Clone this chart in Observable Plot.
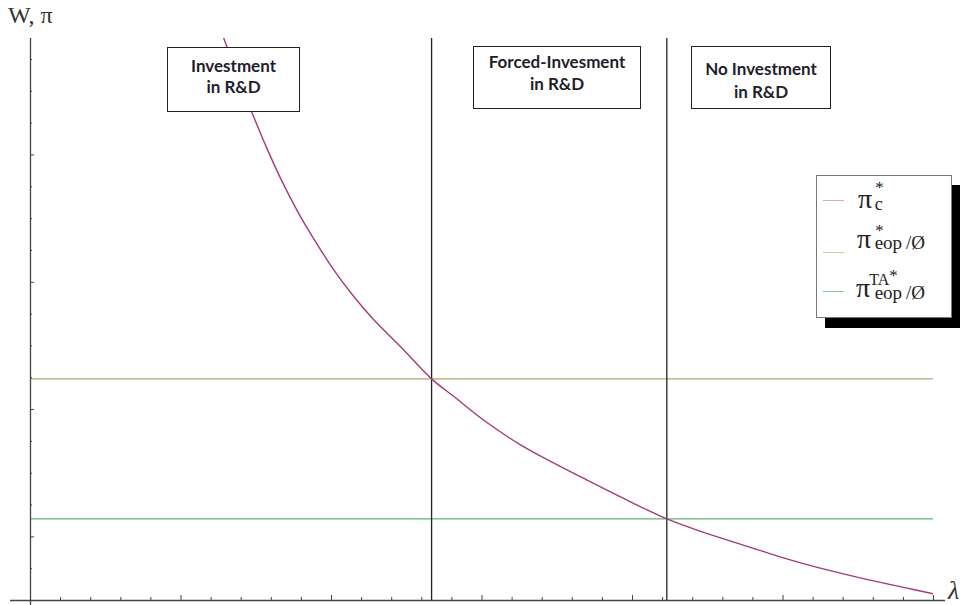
<!DOCTYPE html>
<html>
<head>
<meta charset="utf-8">
<script src="https://cdn.jsdelivr.net/npm/d3@7"></script>
<script src="https://cdn.jsdelivr.net/npm/@observablehq/plot@0.6"></script>
<style>
  html, body { margin: 0; padding: 0; background: #fff; }
  #wrap { position: relative; width: 960px; height: 605px; overflow: hidden; }
  #chart { position: absolute; left: 0; top: 0; }
  .box { position: absolute; box-sizing: border-box; border: 1.5px solid #222; background: #fff;
         text-align: center; font-family: Lato, "Open Sans", sans-serif; font-weight: 700; font-size: 17px; color: #1e1e2c; }
  .ser { position: absolute; font-family: "Liberation Serif", "DejaVu Serif", serif; color: #222; white-space: nowrap; }
  .ser span { position: relative; }
  #legend { position: absolute; left: 816px; top: 175px; width: 136px; height: 143px; box-sizing: border-box;
            border: 1px solid #777; background: #fff; box-shadow: 9px 10px 0 #000; }
  .sw { position: absolute; left: 6px; width: 21px; height: 0; border-top: 1.6px solid; }
</style>
</head>
<body>
<div id="wrap">
  <div id="chart"></div>
  <div class="ser" style="left:8px; top:3px; font-size:24px; line-height:24px; color:#333;">W, π</div>
  <div class="ser" style="left:948px; top:578px; font-size:26px; line-height:26px; font-style:italic; color:#333;">λ</div>
  <div id="boxes"></div>
  <div id="legend"></div>
</div>
<script>
// ---- data ----
const lambda = [1.28, 1.484, 1.595, 1.683, 1.794, 1.905, 2.015, 2.148, 2.281, 2.458, 2.665, 2.811, 3.035, 3.256, 3.475, 3.701, 3.920, 4.228, 4.405, 4.605, 4.804, 5.003, 5.203, 5.402, 5.601, 5.801, 6.0];
const piC    = [4.93, 4.297, 3.987, 3.765, 3.516, 3.298, 3.097, 2.888, 2.705, 2.495, 2.241, 2.104, 1.896, 1.723, 1.581, 1.444, 1.314, 1.141, 1.063, 0.984, 0.910, 0.835, 0.768, 0.709, 0.654, 0.603, 0.552];
const piEop = [2.241];
const piEopTA = [1.141];
const thresholds = [2.665, 4.228];
const xDomain = [0, 6];
const yDomain = [0.5, 4.915];
const xMajorTicks = [1, 2, 3, 4, 5, 6];
const xMinorTicks = [0.2, 0.4, 0.6, 0.8, 1.2, 1.4, 1.6, 1.8, 2.2, 2.4, 2.6, 2.8, 3.2, 3.4, 3.6, 3.8, 4.2, 4.4, 4.6, 4.8, 5.2, 5.4, 5.6, 5.8];
const yMajorTicks = [1, 2, 3, 4];
const yMinorTicks = [0.75, 1.25, 1.5, 1.75, 2.25, 2.5, 2.75, 3.25, 3.5, 3.75, 4.25, 4.5, 4.75];
const regionLabels = [["Investment", "in R&D"], ["Forced-Invesment", "in R&D"], ["No Investment", "in R&D"]];

const curve = lambda.map((x, i) => ({lambda: x, pi: piC[i]}));

const colC = "#a23a7c", colEop = "#b0a574", colTA = "#5db873";
const axisCol = "#444";

const chart = Plot.plot({
  width: 960, height: 605,
  marginLeft: 30, marginRight: 27, marginTop: 38, marginBottom: 5,
  x: {domain: xDomain, axis: null},
  y: {domain: yDomain, axis: null},
  marks: [
    Plot.ruleY(piEop, {stroke: colEop, strokeWidth: 1.4}),
    Plot.ruleY(piEopTA, {stroke: colTA, strokeWidth: 1.4}),
    Plot.ruleX(thresholds, {stroke: "#222", strokeWidth: 1.3}),
    Plot.line(curve, {x: "lambda", y: "pi", stroke: colC, strokeWidth: 1.4, curve: "catmull-rom", clip: true}),
    Plot.ruleY([yDomain[0]], {stroke: axisCol, strokeWidth: 1.3, insetLeft: -20, insetRight: -12}),
    Plot.ruleX([xDomain[0]], {stroke: axisCol, strokeWidth: 1.3, insetBottom: -5}),
    Plot.axisX(xMajorTicks, {anchor: "bottom", tickSize: -5, tickFormat: () => "", label: null, stroke: axisCol}),
    Plot.axisX(xMinorTicks, {anchor: "bottom", tickSize: -3, tickFormat: () => "", label: null, stroke: axisCol}),
    Plot.axisY(yMajorTicks, {anchor: "left", tickSize: -4, tickFormat: () => "", label: null, stroke: axisCol}),
    Plot.axisY(yMinorTicks, {anchor: "left", tickSize: -2, tickFormat: () => "", label: null, stroke: axisCol})
  ]
});
document.getElementById("chart").appendChild(chart);

// region label boxes
const boxStyles = [
  "left:167px; top:47px; width:133px; height:65px; padding-top:7px; line-height:21px;",
  "left:473px; top:46px; width:168px; height:63px; padding-top:4px; line-height:22px;",
  "left:691px; top:46px; width:140px; height:63px; padding-top:10px; line-height:23px;"
];
const boxes = document.getElementById("boxes");
regionLabels.forEach((lines, i) => {
  const d = document.createElement("div");
  d.className = "box";
  d.style.cssText = boxStyles[i];
  lines.forEach(t => { const l = document.createElement("div"); l.textContent = t; d.appendChild(l); });
  boxes.appendChild(d);
});

// legend (each label is one text element; sup/sub are shifted inline)
const legend = document.getElementById("legend");
legend.innerHTML = `
  <div class="sw" style="top:24px; border-color:#dca6c8;"></div>
  <div class="sw" style="top:76px; border-color:#cfc79a;"></div>
  <div class="sw" style="top:115px; border-color:#7cc68e;"></div>
  <span class="ser" style="left:41px; top:9px; font-size:28px; line-height:28px;">π<span style="font-size:17px; top:-15px; margin-left:3px;">*</span><span style="font-size:18px; top:2px; margin-left:-9px;">c</span></span>
  <span class="ser" style="left:40px; top:49px; font-size:28px; line-height:28px;">π<span style="font-size:17px; top:-12px; margin-left:4px;">*</span><span style="font-size:19px; top:1px; margin-left:-9px;">eop&#8201;/Ø</span></span>
  <span class="ser" style="left:39px; top:98px; font-size:28px; line-height:28px;">π<span style="font-size:16px; top:-12px; margin-left:-1px;">TA<span style="font-size:17px; top:-4px;">*</span></span><span style="font-size:19px; top:2px; margin-left:-23px;">eop&#8201;/Ø</span></span>
`;
</script>
</body>
</html>
